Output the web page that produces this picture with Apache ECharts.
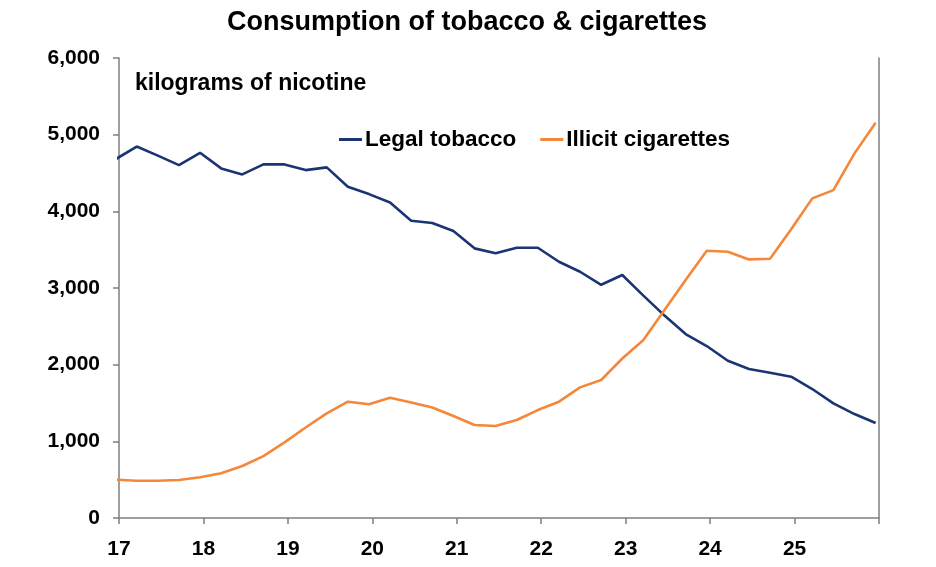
<!DOCTYPE html>
<html>
<head>
<meta charset="utf-8">
<script src="https://cdn.jsdelivr.net/npm/echarts@6/dist/echarts.min.js"></script>
<style>html,body{margin:0;padding:0;background:#fff;}#c{width:936px;height:567px;}</style>
</head>
<body>
<div id="c"></div>
<script>
// quarterly observations (x in years, e.g. 17.21 = Q1 2017)
var quarters = [16.96,17.21,17.46,17.71,17.96,18.21,18.46,18.71,18.96,19.21,19.46,19.71,19.96,20.21,20.46,20.71,20.96,21.21,21.46,21.71,21.96,22.21,22.46,22.71,22.96,23.21,23.46,23.71,23.96,24.21,24.46,24.71,24.96,25.21,25.46,25.71,25.96];
var legalTobacco = [4680,4845,4727,4603,4764,4560,4482,4612,4612,4538,4573,4320,4225,4115,3877,3847,3743,3517,3452,3525,3525,3342,3212,3042,3169,2900,2640,2399,2243,2051,1943,1895,1843,1682,1496,1356,1239];
var illicitCigarettes = [500,485,485,496,531,583,678,808,987,1180,1365,1517,1483,1569,1506,1441,1330,1213,1200,1278,1408,1517,1704,1800,2080,2321,2712,3103,3486,3473,3373,3381,3765,4169,4277,4756,5155];
var yTicks = [0,1000,2000,3000,4000,5000,6000];
var xTicks = [17,18,19,20,21,22,23,24,25,26];

function pairs(xs, ys){ return xs.map(function(x,i){ return [x, ys[i]]; }); }

var FONT = '"Liberation Sans", Arial, sans-serif';
var chart = echarts.init(document.getElementById('c'), null, {renderer:'canvas'});
chart.setOption({
  animation: false,
  backgroundColor: '#ffffff',
  title: {
    text: 'Consumption of tobacco & cigarettes',
    left: 462, top: 4, textAlign: 'center',
    textStyle: {fontFamily: FONT, fontWeight: 'bold', fontSize: 27, color: '#000'}
  },
  graphic: [{
    type: 'text', left: 135, top: 72,
    style: {text: 'kilograms of nicotine', fontFamily: FONT, fontWeight: 'bold', fontSize: 23, fill: '#000'}
  }],
  legend: {
    left: 334, top: 123,
    icon: 'rect', itemWidth: 23, itemHeight: 3, itemGap: 24,
    textStyle: {fontFamily: FONT, fontWeight: 'bold', fontSize: 22.5, color: '#000', padding: [0,0,0,-2]},
    data: ['Legal tobacco', 'Illicit cigarettes']
  },
  grid: {left: 119, right: 57, top: 58, bottom: 49, containLabel: false},
  xAxis: {
    type: 'value', min: xTicks[0], max: xTicks[xTicks.length-1], interval: 1,
    axisLine: {show: true, onZero: false, lineStyle: {color: '#7f7f7f', width: 1.5}},
    axisTick: {show: true, length: 6, lineStyle: {color: '#7f7f7f', width: 1.5}},
    splitLine: {show: false},
    axisLabel: {
      margin: 21, fontFamily: FONT, fontWeight: 'bold', fontSize: 21, color: '#000',
      formatter: function(v){ return v === 26 ? '' : String(v); }
    }
  },
  yAxis: [{
    type: 'value', min: yTicks[0], max: yTicks[yTicks.length-1], interval: 1000,
    axisLine: {show: true, lineStyle: {color: '#7f7f7f', width: 1.5}},
    axisTick: {show: true, length: 6, lineStyle: {color: '#7f7f7f', width: 1.5}},
    splitLine: {show: false},
    axisLabel: {
      margin: 19, fontFamily: FONT, fontWeight: 'bold', fontSize: 21, color: '#000',
      formatter: function(v){ return v.toLocaleString('en-US'); }
    }
  }, {
    type: 'value', position: 'right', min: 0, max: 6000, interval: 1000,
    axisLine: {show: true, lineStyle: {color: '#7f7f7f', width: 1.5}},
    axisTick: {show: false}, axisLabel: {show: false}, splitLine: {show: false}
  }],
  series: [{
    name: 'Legal tobacco', type: 'line', data: pairs(quarters, legalTobacco),
    showSymbol: false, symbol: 'none', clip: true,
    lineStyle: {color: '#1b3473', width: 2.6}, itemStyle: {color: '#1b3473'}
  }, {
    name: 'Illicit cigarettes', type: 'line', data: pairs(quarters, illicitCigarettes),
    showSymbol: false, symbol: 'none', clip: true,
    lineStyle: {color: '#f5873a', width: 2.6}, itemStyle: {color: '#f5873a'}
  }]
});
</script>
</body>
</html>
